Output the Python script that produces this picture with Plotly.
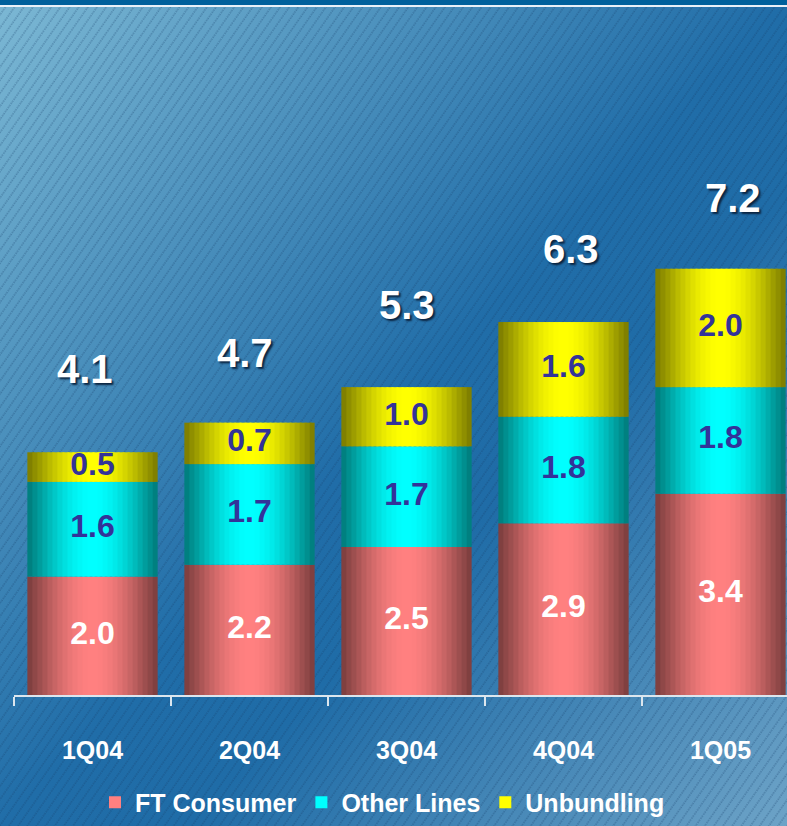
import base64
import math
import plotly.graph_objects as go

# ---------------- data ----------------
categories = ["1Q04", "2Q04", "3Q04", "4Q04", "1Q05"]
ft_consumer = [2.0, 2.2, 2.5, 2.9, 3.4]
other_lines = [1.6, 1.7, 1.7, 1.8, 1.8]
unbundling = [0.5, 0.7, 1.0, 1.6, 2.0]
totals = [4.1, 4.7, 5.3, 6.3, 7.2]
series_names = ["FT Consumer", "Other Lines", "Unbundling"]

# ---------------- style ----------------
W, H = 787, 826
ML, MR, MT, MB = 14, 0, 10, 131
PW, PH = W - ML - MR, H - MT - MB
PX_PER_CAT = 157.0
PX_PER_UNIT = 59.2
BAR_W = 0.83
N_STRIPS = 26
TOTAL_XSHIFT = [-8, -5, 0, 7, 12]      # label placement offsets (px)
TOTAL_YSHIFT = [83, 70, 82, 73, 71]

FONT = "Liberation Sans, Arial, sans-serif"
series_style = [
    ((255, 128, 128), "white"),
    ((0, 255, 255), "#333399"),
    ((255, 255, 0), "#333399"),
]

fig = go.Figure()

series_vals = [ft_consumer, other_lines, unbundling]
base = [0.0] * len(categories)
strip_w = BAR_W / N_STRIPS
for name, vals, (rgb, lab_col) in zip(series_names, series_vals, series_style):
    for k in range(N_STRIPS):
        t = (k + 0.5) / N_STRIPS
        f = 0.48 + 0.52 * math.sin(math.pi * t) ** 1.1
        col = "rgb({},{},{})".format(*[round(c * f) for c in rgb])
        w = strip_w * (1.4 if k < N_STRIPS - 1 else 1.0)
        fig.add_trace(go.Bar(
            x=categories, y=vals, base=base,
            width=[w] * len(categories),
            offset=[-BAR_W / 2 + k * strip_w] * len(categories),
            marker=dict(color=col, line=dict(width=0)),
            name=name, legendgroup=name,
            showlegend=(k == N_STRIPS // 2),
            hoverinfo="skip",
        ))
    mids = [b + v / 2 for b, v in zip(base, vals)]
    fig.add_trace(go.Scatter(
        x=categories, y=mids, mode="text",
        text=[f"{v:.1f}" for v in vals],
        textposition="middle center",
        textfont=dict(family=FONT, size=32, color=lab_col, weight="bold"),
        showlegend=False, hoverinfo="skip",
    ))
    base = [b + v for b, v in zip(base, vals)]

for i, (c, tot) in enumerate(zip(categories, totals)):
    fig.add_annotation(
        x=c, y=base[i], yshift=TOTAL_YSHIFT[i], xshift=TOTAL_XSHIFT[i],
        text=f"{tot:.1f}", showarrow=False,
        font=dict(family=FONT, size=40, color="white", weight="bold",
                  shadow="2px 2px 2px #0b2440"),
    )

# background: diagonal gradient + hatch
svg = f'''<svg xmlns="http://www.w3.org/2000/svg" width="{W}" height="{H}" viewBox="0 0 {W} {H}">
<defs>
<linearGradient id="g" x1="0" y1="0" x2="1" y2="1">
<stop offset="0" stop-color="#7CB8D4"/>
<stop offset="0.5" stop-color="#206DA8"/>
<stop offset="0.62" stop-color="#1F6CA7"/>
<stop offset="1" stop-color="#6DA3C7"/>
</linearGradient>
<pattern id="h" width="7.5" height="10" patternUnits="userSpaceOnUse" patternTransform="rotate(35)">
<line x1="1" y1="0" x2="1" y2="10" stroke="#123a66" stroke-opacity="0.5" stroke-width="1" stroke-dasharray="1.5 1"/>
</pattern>
</defs>
<rect width="{W}" height="{H}" fill="url(#g)"/>
<rect width="{W}" height="{H}" fill="url(#h)"/>
<rect width="{W}" height="5" fill="#00609C"/>
<rect y="5" width="{W}" height="2" fill="#E8F0F8"/>
</svg>'''
src = "data:image/svg+xml;base64," + base64.b64encode(svg.encode()).decode()
fig.add_layout_image(dict(
    source=src, xref="paper", yref="paper",
    x=-ML / PW, y=1 + MT / PH, sizex=W / PW, sizey=H / PH,
    xanchor="left", yanchor="top", sizing="stretch", layer="below",
))

fig.update_layout(
    width=W, height=H,
    margin=dict(l=ML, r=MR, t=MT, b=MB, pad=0),
    barmode="overlay",
    paper_bgcolor="#2A72AA", plot_bgcolor="rgba(0,0,0,0)",
    showlegend=True,
    legend=dict(
        orientation="h", x=(95 - ML) / PW, xanchor="left",
        y=-(MB - 0.5) / PH, yanchor="bottom",
        bgcolor="rgba(0,0,0,0)",
        font=dict(family=FONT, size=25, color="white", weight="bold"),
        itemclick=False, itemdoubleclick=False,
    ),
    xaxis=dict(
        type="category", range=[-0.5, -0.5 + PW / PX_PER_CAT],
        showline=True, linecolor="#DCE6EE", linewidth=1.5,
        ticks="outside", tickson="boundaries", ticklen=9,
        tickcolor="#DCE6EE", tickwidth=1.5,
        tickfont=dict(family=FONT, size=25, color="white", weight="bold"),
        ticklabelstandoff=32,
        showgrid=False, zeroline=False, fixedrange=True,
    ),
    yaxis=dict(range=[0, PH / PX_PER_UNIT], visible=False, fixedrange=True),
)

fig.write_html(
    "out.html",
    config={"displayModeBar": False},
    post_script="document.body.style.margin='0px';document.body.style.overflow='hidden';",
)
